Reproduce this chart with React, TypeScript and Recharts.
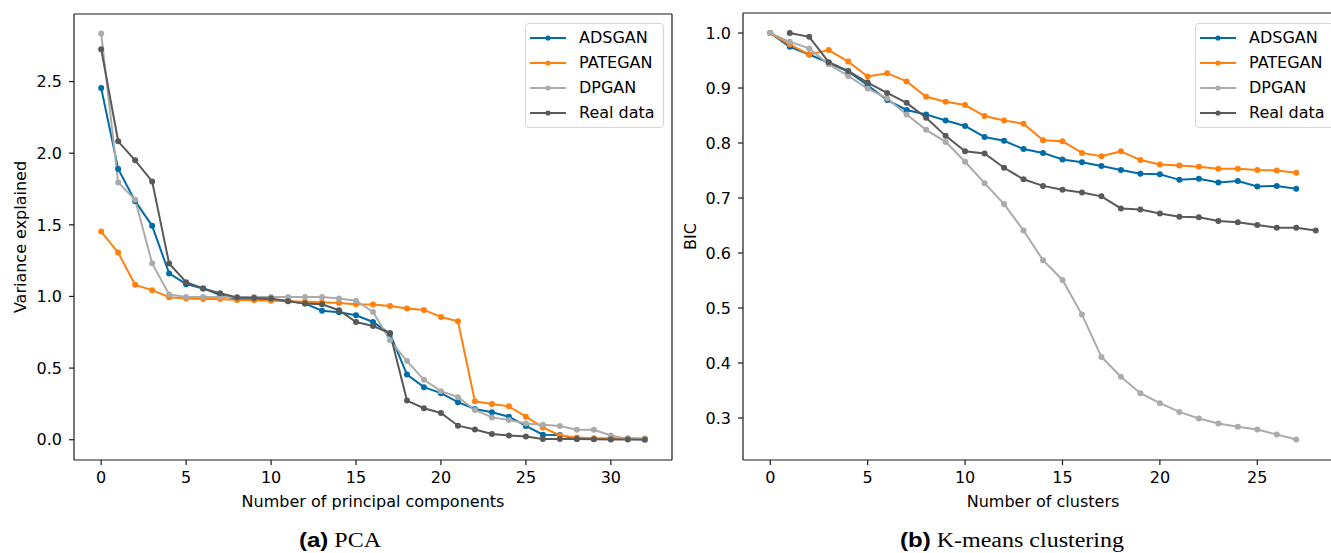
import { LineChart, Line, XAxis, YAxis, Legend, ReferenceLine } from "recharts";

// (a) PCA: variance explained per principal component
const pcaComponents = [0, 1, 2, 3, 4, 5, 6, 7, 8, 9, 10, 11, 12, 13, 14, 15, 16, 17, 18, 19, 20, 21, 22, 23, 24, 25, 26, 27, 28, 29, 30, 31, 32];
const pcaAdsgan = [2.455, 1.89, 1.665, 1.493, 1.161, 1.086, 1.056, 1.009, 0.981, 0.98, 0.975, 0.97, 0.95, 0.9, 0.89, 0.869, 0.822, 0.74, 0.455, 0.367, 0.325, 0.262, 0.215, 0.192, 0.161, 0.096, 0.035, 0.033, 0.005, 0.005, 0.005, 0.005, 0.005];
const pcaPategan = [1.453, 1.306, 1.081, 1.044, 0.995, 0.985, 0.983, 0.982, 0.975, 0.973, 0.97, 0.967, 0.963, 0.96, 0.955, 0.946, 0.944, 0.934, 0.916, 0.906, 0.857, 0.827, 0.268, 0.25, 0.233, 0.161, 0.086, 0.03, 0.016, 0.01, 0.01, 0.01, 0.009];
const pcaDpgan = [2.836, 1.796, 1.675, 1.231, 1.014, 0.997, 0.997, 0.997, 0.997, 0.997, 0.997, 0.997, 0.997, 0.997, 0.986, 0.97, 0.892, 0.694, 0.549, 0.418, 0.339, 0.297, 0.208, 0.156, 0.138, 0.114, 0.105, 0.096, 0.07, 0.07, 0.03, 0.005, 0.005];
const pcaReal = [2.726, 2.083, 1.95, 1.803, 1.23, 1.1, 1.056, 1.023, 0.993, 0.99, 0.985, 0.967, 0.95, 0.946, 0.904, 0.822, 0.794, 0.745, 0.273, 0.22, 0.187, 0.098, 0.072, 0.04, 0.03, 0.023, 0.005, 0.005, 0.005, 0.003, 0.002, 0.001, 0.0];
const pcaXTicks = [0, 5, 10, 15, 20, 25, 30];
const pcaYTicks = [0, 0.5, 1.0, 1.5, 2.0, 2.5];

// (b) K-means clustering: normalised BIC per number of clusters
const kmClusters = [0, 1, 2, 3, 4, 5, 6, 7, 8, 9, 10, 11, 12, 13, 14, 15, 16, 17, 18, 19, 20, 21, 22, 23, 24, 25, 26, 27, 28];
const kmAdsgan = [1.0, 0.975, 0.961, 0.946, 0.93, 0.905, 0.878, 0.86, 0.852, 0.841, 0.831, 0.811, 0.804, 0.789, 0.782, 0.77, 0.765, 0.758, 0.751, 0.744, 0.743, 0.733, 0.735, 0.728, 0.731, 0.721, 0.722, 0.717, null];
const kmPategan = [1.0, 0.979, 0.961, 0.969, 0.948, 0.921, 0.927, 0.912, 0.884, 0.875, 0.869, 0.849, 0.841, 0.835, 0.805, 0.803, 0.782, 0.776, 0.785, 0.769, 0.761, 0.759, 0.757, 0.753, 0.753, 0.751, 0.75, 0.746, null];
const kmDpgan = [1.0, 0.984, 0.972, 0.943, 0.922, 0.899, 0.881, 0.852, 0.824, 0.802, 0.766, 0.727, 0.689, 0.641, 0.587, 0.551, 0.488, 0.411, 0.375, 0.345, 0.327, 0.311, 0.299, 0.29, 0.284, 0.279, 0.27, 0.261, null];
const kmReal = [null, 1.0, 0.993, 0.947, 0.931, 0.91, 0.891, 0.873, 0.846, 0.813, 0.785, 0.781, 0.755, 0.734, 0.722, 0.715, 0.71, 0.703, 0.681, 0.679, 0.672, 0.666, 0.665, 0.658, 0.656, 0.651, 0.646, 0.646, 0.641];
const kmXTicks = [0, 5, 10, 15, 20, 25];
const kmYTicks = [0.3, 0.4, 0.5, 0.6, 0.7, 0.8, 0.9, 1.0];

const SERIES = [
  { key: "adsgan", name: "ADSGAN", color: "#006BA4" },
  { key: "pategan", name: "PATEGAN", color: "#FF800E" },
  { key: "dpgan", name: "DPGAN", color: "#ABABAB" },
  { key: "real", name: "Real data", color: "#595959" },
];

const FONT = "'DejaVu Sans', sans-serif";
const SPINE = "#1a1a1a";

function rows(x: number[], cols: Record<string, (number | null)[]>) {
  return x.map((v, i) => {
    const r: Record<string, number | null> = { x: v };
    for (const k of Object.keys(cols)) r[k] = cols[k][i];
    return r;
  });
}

const pcaData = rows(pcaComponents, { adsgan: pcaAdsgan, pategan: pcaPategan, dpgan: pcaDpgan, real: pcaReal });
const kmData = rows(kmClusters, { adsgan: kmAdsgan, pategan: kmPategan, dpgan: kmDpgan, real: kmReal });

// recharts clones label elements with its own props (angle, x, y...), so use odd names
function AxisTitle({ tx, ty, vertical, text }: { tx: number; ty: number; vertical?: boolean; text: string }) {
  return (
    <text
      x={tx}
      y={ty}
      dy={vertical ? "0.35em" : 0}
      textAnchor="middle"
      transform={vertical ? `rotate(-90 ${tx} ${ty})` : undefined}
      fontSize={16}
      fontFamily={FONT}
      fill="#000"
    >
      {text}
    </text>
  );
}

function LegendBox() {
  return (
    <div
      style={{
        boxSizing: "border-box",
        width: 139,
        height: 105,
        padding: "1px 0 0 4px",
        border: "1px solid #d4d4d4",
        borderRadius: 4,
        background: "rgba(255,255,255,0.85)",
        fontFamily: FONT,
        fontSize: 16,
        color: "#000",
      }}
    >
      {SERIES.map((s) => (
        <div key={s.key} style={{ display: "flex", alignItems: "center", height: 25 }}>
          <svg width={36} height={10} style={{ marginRight: 13 }}>
            <line x1={0} y1={5} x2={36} y2={5} stroke={s.color} strokeWidth={2} />
            <circle cx={18} cy={5} r={2.6} fill={s.color} />
          </svg>
          <span>{s.name}</span>
        </div>
      ))}
    </div>
  );
}

type PanelProps = {
  data: Record<string, number | null>[];
  top: number;
  yAxisWidth: number;
  right: number;
  xDomain: [number, number];
  xTicks: number[];
  yDomain: [number, number];
  yTicks: number[];
  yDigits: number;
  xTitle: string;
  yTitle: string;
  yTitleX: number;
};

function Panel(p: PanelProps) {
  const width = 690;
  const height = 520;
  const xAxisHeight = height - 460;
  const plotMid = (p.top + 460) / 2;
  const plotMidX = p.yAxisWidth + (width - p.right - p.yAxisWidth) / 2;
  return (
    <LineChart width={width} height={height} data={p.data} margin={{ top: p.top, right: p.right, left: 0, bottom: 0 }}>
      <XAxis
        dataKey="x"
        type="number"
        domain={p.xDomain}
        ticks={p.xTicks}
        allowDataOverflow
        height={xAxisHeight}
        tickSize={5}
        tickMargin={7}
        stroke={SPINE}
        strokeWidth={1.2}
        tick={{ fill: "#000", fontSize: 16, fontFamily: FONT }}
        label={<AxisTitle tx={plotMidX} ty={507} text={p.xTitle} />}
      />
      <YAxis
        type="number"
        domain={p.yDomain}
        ticks={p.yTicks}
        allowDataOverflow
        width={p.yAxisWidth}
        tickSize={5}
        tickMargin={7}
        stroke={SPINE}
        strokeWidth={1.2}
        tickFormatter={(v: number) => v.toFixed(p.yDigits)}
        tick={{ fill: "#000", fontSize: 16, fontFamily: FONT }}
        label={<AxisTitle tx={p.yTitleX} ty={plotMid} vertical text={p.yTitle} />}
      />
      {/* top and right spines */}
      <ReferenceLine y={p.yDomain[1]} stroke={SPINE} strokeWidth={1.2} ifOverflow="visible" />
      <ReferenceLine x={p.xDomain[1]} stroke={SPINE} strokeWidth={1.2} ifOverflow="visible" />
      <Legend
        layout="vertical"
        align="center"
        verticalAlign="middle"
        content={() => <LegendBox />}
        wrapperStyle={{ position: "absolute", left: 525, top: 23, width: 139, height: 105 }}
      />
      {SERIES.map((s) => (
        <Line
          key={s.key}
          dataKey={s.key}
          name={s.name}
          type="linear"
          stroke={s.color}
          strokeWidth={2}
          dot={{ r: 3, fill: s.color, strokeWidth: 0 }}
          activeDot={false}
          isAnimationActive={false}
        />
      ))}
    </LineChart>
  );
}

function Caption({ cx, tag, text }: { cx: number; tag: string; text: string }) {
  return (
    <div
      style={{
        position: "absolute",
        left: cx - 200,
        width: 400,
        top: 527,
        textAlign: "center",
        fontSize: 20,
        lineHeight: "26px",
        color: "#000",
        whiteSpace: "nowrap",
        transform: "scaleX(1.2)",
      }}
    >
      <span style={{ fontFamily: "'Liberation Sans', Arial, sans-serif", fontWeight: 700 }}>{tag}</span>
      <span style={{ fontFamily: "'Liberation Serif', 'Times New Roman', serif" }}> {text}</span>
    </div>
  );
}

export default function App() {
  return (
    <div style={{ position: "absolute", left: 0, top: 0, width: 1331, height: 553, overflow: "hidden", background: "#fff" }}>
      <div style={{ position: "absolute", left: 0, top: 0 }}>
        <Panel
          data={pcaData}
          top={14}
          yAxisWidth={74}
          right={18}
          xDomain={[-1.6, 33.6]}
          xTicks={pcaXTicks}
          yDomain={[-0.1415, 2.9715]}
          yTicks={pcaYTicks}
          yDigits={1}
          xTitle="Number of principal components"
          yTitle="Variance explained"
          yTitleX={20}
        />
      </div>
      <div style={{ position: "absolute", left: 670, top: 0 }}>
        <Panel
          data={kmData}
          top={13}
          yAxisWidth={73}
          right={17}
          xDomain={[-1.4, 29.4]}
          xTicks={kmXTicks}
          yDomain={[0.2236, 1.0364]}
          yTicks={kmYTicks}
          yDigits={1}
          xTitle="Number of clusters"
          yTitle="BIC"
          yTitleX={20}
        />
      </div>
      <Caption cx={340} tag="(a)" text="PCA" />
      <Caption cx={1012} tag="(b)" text="K-means clustering" />
    </div>
  );
}
